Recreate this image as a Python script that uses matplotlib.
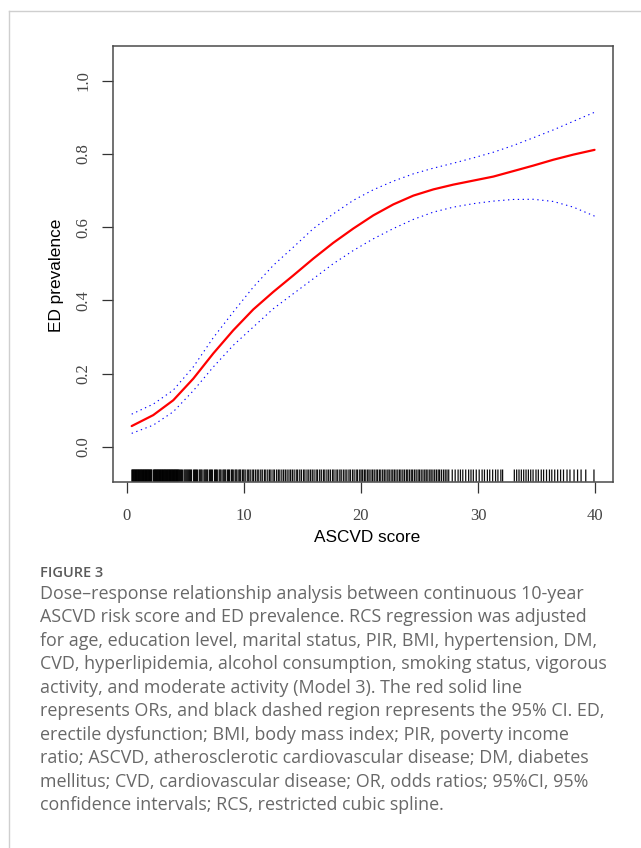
import matplotlib
matplotlib.use("Agg")
import matplotlib.pyplot as plt
from matplotlib.lines import Line2D

# ---------------- data ----------------
score = [0.43, 2.27, 3.98, 5.69, 7.40, 9.10, 10.81, 12.52, 14.23, 15.94, 17.64, 19.35,
         21.06, 22.77, 24.48, 26.19, 27.89, 29.60, 31.31, 33.02, 34.72, 36.43, 38.14, 39.95]
prev_fit = [0.0565, 0.0864, 0.127, 0.186, 0.255, 0.318, 0.375, 0.423, 0.468, 0.514,
            0.557, 0.596, 0.632, 0.662, 0.686, 0.703, 0.716, 0.727, 0.738, 0.753,
            0.768, 0.784, 0.798, 0.811]
prev_upper = [0.089, 0.1164, 0.1546, 0.218, 0.298, 0.368, 0.436, 0.4955, 0.545, 0.596,
              0.636, 0.673, 0.702, 0.7255, 0.7455, 0.761, 0.7745, 0.789, 0.8045, 0.823,
              0.844, 0.8655, 0.889, 0.9136]
prev_lower = [0.0365, 0.059, 0.0955, 0.153, 0.218, 0.277, 0.327, 0.377, 0.418, 0.459,
              0.500, 0.536, 0.568, 0.596, 0.621, 0.641, 0.6545, 0.664, 0.671, 0.6755,
              0.676, 0.670, 0.6545, 0.630]

rug_x = [
    # very dense block near zero
    0.45, 0.5, 0.55, 0.6, 0.65, 0.7, 0.75, 0.8, 0.85, 0.9, 0.95, 1.0, 1.05, 1.1, 1.15,
    1.2, 1.25, 1.3, 1.35, 1.4, 1.45, 1.5, 1.55, 1.6, 1.65, 1.7, 1.75, 1.8, 1.85, 1.9,
    1.95, 2.0, 2.05, 2.1, 2.15,
    2.3, 2.35, 2.4, 2.45, 2.5, 2.55, 2.6, 2.65, 2.7, 2.75, 2.8, 2.85, 2.9, 2.95, 3.0,
    3.05, 3.1, 3.15, 3.2, 3.25, 3.3, 3.35, 3.4, 3.45, 3.5, 3.55, 3.6, 3.65, 3.7, 3.75,
    3.8, 3.85, 3.9, 3.95, 4.0, 4.05, 4.1, 4.15, 4.2, 4.25, 4.3, 4.35, 4.4, 4.45,
    # 4.5 - 10
    4.52, 4.6, 4.68, 4.76, 4.9, 4.98, 5.06, 5.14, 5.22, 5.3, 5.38, 5.46, 5.54,
    5.72, 5.8, 5.88, 5.96, 6.04, 6.2, 6.28, 6.36, 6.44, 6.6, 6.68, 6.76, 6.84, 6.92,
    7.08, 7.16, 7.24, 7.32, 7.5, 7.58, 7.66, 7.74, 7.9, 7.98, 8.06, 8.22, 8.3, 8.38,
    8.46, 8.62, 8.7, 8.78, 8.94, 9.02, 9.1, 9.26, 9.34, 9.42, 9.58, 9.66, 9.74, 9.9,
    # 10 - 20
    10.0, 10.12, 10.3, 10.42, 10.55, 10.72, 10.84, 11.0, 11.15, 11.28, 11.45, 11.58,
    11.76, 11.88, 12.05, 12.2, 12.32, 12.5, 12.62, 12.8, 12.95, 13.08, 13.25, 13.4,
    13.55, 13.7, 13.86, 14.0, 14.15, 14.3, 14.48, 14.6, 14.78, 14.92, 15.1, 15.22,
    15.4, 15.55, 15.7, 15.85, 16.0, 16.18, 16.3, 16.48, 16.62, 16.8, 16.92, 17.1,
    17.25, 17.4, 17.58, 17.7, 17.88, 18.02, 18.2, 18.32, 18.5, 18.65, 18.8, 18.98,
    19.1, 19.28, 19.42, 19.6, 19.72, 19.9,
    # 20 - 27.6
    20.02, 20.15, 20.3, 20.42, 20.58, 20.7, 20.86, 21.0, 21.14, 21.3, 21.42, 21.58,
    21.7, 21.86, 22.0, 22.14, 22.3, 22.42, 22.58, 22.72, 22.86, 23.0, 23.15, 23.3,
    23.42, 23.58, 23.72, 23.88, 24.0, 24.15, 24.3, 24.42, 24.58, 24.72, 24.88, 25.0,
    25.15, 25.3, 25.45, 25.58, 25.72, 25.88, 26.0, 26.15, 26.3, 26.45, 26.6, 26.72,
    26.88, 27.05, 27.2, 27.35, 27.5,
    # 27.7 - 32.2 sparser
    27.8, 28.05, 28.3, 28.5, 28.7, 28.95, 29.2, 29.4, 29.6, 29.85, 30.1, 30.35, 30.55,
    30.8, 31.0, 31.25, 31.5, 31.7, 31.95, 32.1,
    # 33 - 39.3
    33.1, 33.3, 33.5, 33.7, 33.9, 34.1, 34.3, 34.5, 34.7, 34.95, 35.15, 35.4, 35.6,
    35.85, 36.1, 36.3, 36.55, 36.8, 37.05, 37.3, 37.6, 37.85, 38.2, 38.5, 38.8, 39.2,
    39.9,
]

x_ticks = [0, 10, 20, 30, 40]
y_ticks = [0.0, 0.2, 0.4, 0.6, 0.8, 1.0]
y_tick_labels = ["0.0", "0.2", "0.4", "0.6", "0.8", "1.0"]
x_label = "ASCVD score"
y_label = "ED prevalence"

caption_title = "FIGURE 3"
caption_lines = [
    "Dose\u2013response relationship analysis between continuous 10-year",
    "ASCVD risk score and ED prevalence. RCS regression was adjusted",
    "for age, education level, marital status, PIR, BMI, hypertension, DM,",
    "CVD, hyperlipidemia, alcohol consumption, smoking status, vigorous",
    "activity, and moderate activity (Model 3). The red solid line",
    "represents ORs, and black dashed region represents the 95% CI. ED,",
    "erectile dysfunction; BMI, body mass index; PIR, poverty income",
    "ratio; ASCVD, atherosclerotic cardiovascular disease; DM, diabetes",
    "mellitus; CVD, cardiovascular disease; OR, odds ratios; 95%CI, 95%",
    "confidence intervals; RCS, restricted cubic spline.",
]

# ---------------- figure ----------------
W, H = 641, 848
fig = plt.figure(figsize=(W / 100, H / 100), dpi=100)
fig.patch.set_facecolor("white")

def fx(px):
    return px / W

def fy(py):
    return 1 - py / H

# outer light-grey card border (left and top edges visible)
fig.add_artist(Line2D([fx(9), fx(9)], [fy(11), fy(H + 5)], color="#cfcfcf", lw=1.0))
fig.add_artist(Line2D([fx(9), fx(W + 5)], [fy(11), fy(11)], color="#cfcfcf", lw=1.0))

ax_l, ax_r, ax_t, ax_b = 113.3, 612.7, 45.7, 481.7
ax = fig.add_axes([fx(ax_l), fy(ax_b), (ax_r - ax_l) / W, (ax_b - ax_t) / H])
ax.set_xlim(-1.14, 41.5)
ax.set_ylim(-0.0955, 1.0955)

ax.plot(score, prev_fit, color="#ff0000", lw=1.6, solid_capstyle="round",
        solid_joinstyle="round", zorder=3)
ax.plot(score, prev_upper, color="#0000ff", lw=0.8, linestyle=(0, (1.2, 3.2)), zorder=2)
ax.plot(score, prev_lower, color="#0000ff", lw=0.8, linestyle=(0, (1.2, 3.2)), zorder=2)

# rug
rug = ax.vlines(rug_x, 0, 0.028, transform=ax.get_xaxis_transform(), color="black",
                lw=0.9, alpha=0.95, zorder=2)
rug.set_snap(False)
rug.set_antialiased(True)

for s in ax.spines.values():
    s.set_color("#4a4a4a")
    s.set_linewidth(1.1)

ax.set_xticks(x_ticks)
ax.set_xticklabels([str(v) for v in x_ticks])
ax.set_yticks(y_ticks)
ax.set_yticklabels(y_tick_labels)
ax.tick_params(axis="both", direction="out", length=8, width=0.9, color="#333333",
               labelcolor="#444444", labelsize=12)
ax.tick_params(axis="x", pad=11)
ax.tick_params(axis="y", pad=8, labelrotation=90)
for lab in ax.get_xticklabels() + ax.get_yticklabels():
    lab.set_fontfamily("Liberation Serif")
for lab in ax.get_yticklabels():
    lab.set_va("center")

fig.text(fx(57), fy(275), y_label, rotation=90, ha="center", va="center",
         fontsize=12.4, family="Liberation Sans", color="black")
fig.text(fx(367), fy(537), x_label, ha="center", va="center",
         fontsize=12.4, family="Liberation Sans", color="black")

# caption
fig.text(fx(40), fy(573), caption_title, ha="left", va="center", fontsize=10.5,
         family="Open Sans", fontweight="semibold", color="#5a5a5a")
for i, line in enumerate(caption_lines):
    fig.text(fx(40), fy(594 + i * 23.45), line, ha="left", va="center", fontsize=12.9,
             family="Open Sans", color="#686868")

fig.savefig("out.png", dpi=100, facecolor="white")
